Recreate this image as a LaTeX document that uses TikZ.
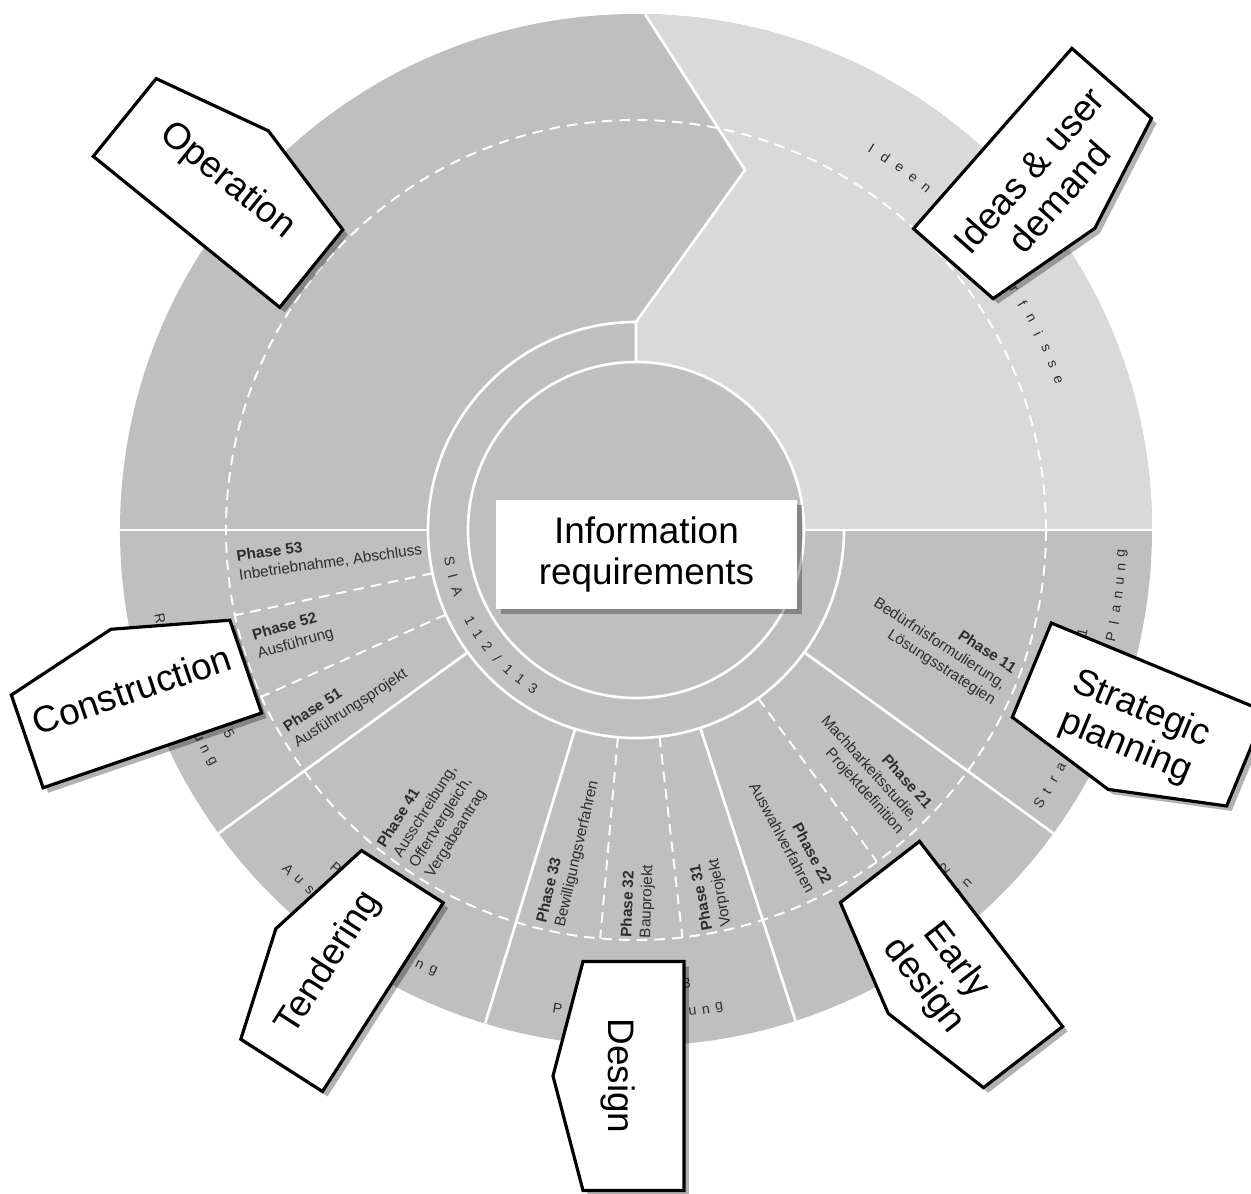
\documentclass[tikz,border=0pt]{standalone}
\usepackage{fontspec}
\setmainfont{Liberation Sans}
\usepackage{tikz}
\usetikzlibrary{calc}
\definecolor{phasegray}{RGB}{191,191,191}
\definecolor{ideagray}{RGB}{217,217,217}
\definecolor{inkgray}{RGB}{45,45,45}

% letters spaced along a circle: name, radius, start angle, step, turn, letters
\newcommand{\arctext}[6]{%
  \foreach \ch [count=\k from 0] in {#6}
    \node[bandchar, rotate={#3+\k*(#4)#5}] (#1\k) at ({#3+\k*(#4)}:#2) {\ch};}

% tag label: name, x, y, angle, length, height, side of the point, text
\newcommand{\tagbox}[8]{%
  \fill[tagshadow, shift={(#2+5,#3-5)}, rotate=#4] ({-#5/2},{-(#7)*#6/2}) -- ({#5/2},{-(#7)*#6/2})
    -- ({#5/2},{(#7)*#6/2}) -- (0,{(#7)*(#6/2+30)}) -- ({-#5/2},{(#7)*#6/2}) -- cycle;
  \draw[tagline, shift={(#2,#3)}, rotate=#4] ({-#5/2},{-(#7)*#6/2}) -- ({#5/2},{-(#7)*#6/2})
    -- ({#5/2},{(#7)*#6/2}) -- (0,{(#7)*(#6/2+30)}) -- ({-#5/2},{(#7)*#6/2}) -- cycle;
  \node[taglabel, rotate=#4] (#1) at ($(#2,#3)+({#4+90}:{(#7)*15})$) {#8};}

\begin{document}
\begin{tikzpicture}[
    x=0.2mm, y=0.2mm,
    sepline/.style={draw=white, line width=1.5pt},
    dashline/.style={draw=white, line width=1.1pt, dash pattern=on 6pt off 4pt},
    phasetext/.style={font=\fontsize{8.7}{10.7}\selectfont, text=inkgray, inner sep=0pt},
    bandchar/.style={font=\fontsize{8}{9}\selectfont, text=inkgray, inner sep=0pt},
    tagline/.style={draw=black, line width=1.8pt, fill=white},
    tagshadow/.style={fill=black, opacity=0.3},
    taglabel/.style={font=\fontsize{21}{23}\selectfont, align=center, inner sep=0pt}
]
\useasboundingbox (-636,-663) rectangle (615,530);
\clip (-636,-663) rectangle (615,530);

% Disc
\fill[phasegray] (0,0) circle (516);
\fill[ideagray] (0:168) -- (0:516) arc[start angle=0, end angle=89, radius=516]
  -- (109,360) -- (90:208) -- (90:168) arc[start angle=90, end angle=0, radius=168] -- cycle;

% Borders
\draw[sepline] (0,0) circle (168);
\draw[sepline] (90:208) arc[start angle=90, end angle=360, radius=208];
\draw[sepline] (90:168) -- (90:208) -- (109,360) -- (89:516);
\draw[sepline] (0:168) -- (0:516);
\foreach \a in {180,216,253,288,324}
  \draw[sepline] (\a:208) -- (\a:516);

\draw[dashline] (0,0) circle (410);
\foreach \a in {192,204,265,276.5,306}
  \draw[dashline] (\a:208) -- (\a:410);

% Ring texts
\arctext{sia}{189}{189.5}{4.75}{+90}{S,I,A,{},1,1,2,/,1,1,3}
\arctext{ideen}{448}{58.3}{-2.15}{-90}{I,d,e,e,n,{},\&,{},B,e,d,ü,r,f,n,i,s,s,e}
\arctext{strat}{487}{-34.1}{1.65}{+90}{S,t,r,a,t,e,g,i,s,c,h,e,{},P,l,a,n,u,n,g}
\arctext{vorst}{484}{298.35}{1.65}{+90}{V,o,r,s,t,u,d,i,e,n}
\arctext{proj}{485}{260.7}{1.6}{+90}{P,r,o,j,e,k,t,i,e,r,u,n,g}
\arctext{aussch}{486}{224.3}{1.75}{+90}{A,u,s,s,c,h,r,e,i,b,u,n,g}
\arctext{real}{484}{190.5}{1.65}{+90}{R,e,a,l,i,s,i,e,r,u,n,g}

\arctext{phone}{458}{336.2}{1.8}{+90}{P,h,a,s,e,{},1}
\arctext{phtwo}{458}{301.6}{1.8}{+90}{P,h,a,s,e,{},2}
\arctext{phthree}{456}{265.6}{1.8}{+90}{P,h,a,s,e,{},3}
\arctext{phfour}{452}{228.4}{1.8}{+90}{P,h,a,s,e,{},4}
\arctext{phfive}{455}{195.8}{1.8}{+90}{P,h,a,s,e,{},5}

% Phases
\node[phasetext, anchor=west, align=left, rotate=8] (p53) at (185.2:400) {\textbf{Phase 53}\\Inbetriebnahme, Abschluss};
\node[phasetext, anchor=west, align=left, rotate=16] (p52) at (196.9:398) {\textbf{Phase 52}\\Ausführung};
\node[phasetext, anchor=west, align=left, rotate=33] (p51) at (210.9:403) {\textbf{Phase 51}\\Ausführungsprojekt};
\node[phasetext, anchor=west, align=left, rotate=58] (p41) at (235.2:404) {\textbf{Phase 41}\\Ausschreibung,\\Offertvergleich,\\Vergabeantrag};
\node[phasetext, anchor=west, align=left, rotate=77] (p33) at (257.9:404) {\textbf{Phase 33}\\Bewilligungsverfahren};
\node[phasetext, anchor=west, align=left, rotate=88] (p32) at (270.1:408) {\textbf{Phase 32}\\Bauprojekt};
\node[phasetext, anchor=west, align=left, rotate=101] (p31) at (281.6:407) {\textbf{Phase 31}\\Vorprojekt};
\node[phasetext, anchor=east, align=right, rotate=-62] (p22) at (-62.8:402) {\textbf{Phase 22}\\Auswahlverfahren};
\node[phasetext, anchor=east, align=right, rotate=-48] (p21) at (-46.1:402) {\textbf{Phase 21}\\Machbarkeitsstudie,\\Projektdefinition};
\node[phasetext, anchor=east, align=right, rotate=-33] (p11) at (-23:400) {\textbf{Phase 11}\\Bedürfnisformulierung,\\Lösungsstrategien};

% Centre
\fill[tagshadow] (-135,25) rectangle (166,-84);
\node[taglabel, fill=white, minimum width=6.02cm, minimum height=2.18cm] (info) at (10.5,-24.5) {Information\\requirements};

% Labels
\tagbox{operation}{-418}{337}{-39}{240}{100}{1}{Operation}
\tagbox{ideas}{396.5}{356.5}{48.7}{240}{106}{-1}{Ideas \& user\\demand}
\tagbox{construction}{-499.5}{-174}{18.9}{231}{98}{1}{Construction}
\tagbox{tendering}{-294}{-441}{57.4}{224}{97}{1}{Tendering}
\tagbox{design}{-2.5}{-546}{-90}{229}{101}{-1}{Design}
\tagbox{earlydesign}{315.5}{-434.5}{-52.3}{234}{100}{-1}{Early\\design}
\tagbox{strategic}{503}{-184.5}{-22.5}{232}{102}{-1}{Strategic\\planning}

\end{tikzpicture}
\end{document}
